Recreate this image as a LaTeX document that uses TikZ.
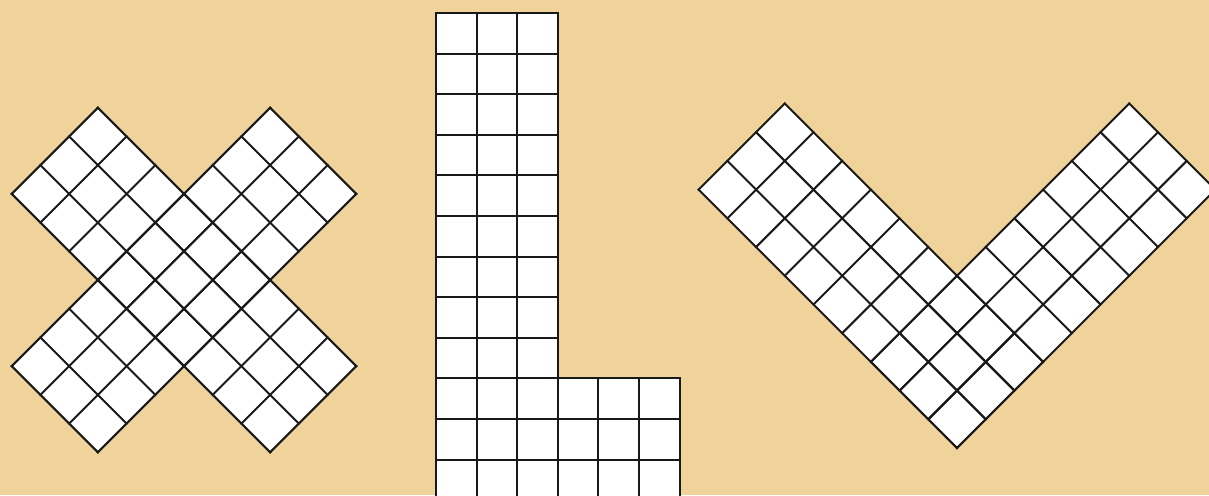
\documentclass[tikz,border=0pt]{standalone}
\definecolor{bg}{RGB}{240,211,155}
\newcommand\cs{40.6}
\newcommand\barfill[2]{\fill[white] (0,0) rectangle (#1*\cs,#2*\cs);}
\newcommand\barlines[2]{%
  \foreach \i in {0,...,#1} {\draw[gridline] (\i*\cs,0) -- (\i*\cs,#2*\cs);}
  \foreach \j in {0,...,#2} {\draw[gridline] (0,\j*\cs) -- (#1*\cs,\j*\cs);}%
}
\begin{document}
\begin{tikzpicture}[x=1pt,y=1pt,
  gridline/.style={line width=2pt, draw=black!90, line cap=rect}]
\fill[bg] (0,0) rectangle (1209,495);
\useasboundingbox (0,0) rectangle (1209,495);
\clip (0,0) rectangle (1209,495);
% X shape
\foreach \pass in {1,2}{
  \begin{scope}[shift={(184,215)}, rotate=-45]
    \begin{scope}[shift={(-4.5*\cs,-1.5*\cs)}]
      \ifnum\pass=1 \barfill{9}{3}\else \barlines{9}{3}\fi
    \end{scope}
  \end{scope}
  \begin{scope}[shift={(184,215)}, rotate=45]
    \begin{scope}[shift={(-4.5*\cs,-1.5*\cs)}]
      \ifnum\pass=1 \barfill{9}{3}\else \barlines{9}{3}\fi
    \end{scope}
  \end{scope}
}
% L shape
\foreach \pass in {1,2}{
  \begin{scope}[shift={(436,482-12*\cs)}]
    \begin{scope}[shift={(0,3*\cs)}]
      \ifnum\pass=1 \barfill{3}{9}\else \barlines{3}{9}\fi
    \end{scope}
    \ifnum\pass=1 \barfill{6}{3}\else \barlines{6}{3}\fi
  \end{scope}
}
% V shape
\foreach \pass in {1,2}{
  \begin{scope}[shift={(957,47)}, rotate=45]
    \ifnum\pass=1 \barfill{3}{9}\else \barlines{3}{9}\fi
    \ifnum\pass=1 \barfill{9}{3}\else \barlines{9}{3}\fi
  \end{scope}
}
\end{tikzpicture}
\end{document}
